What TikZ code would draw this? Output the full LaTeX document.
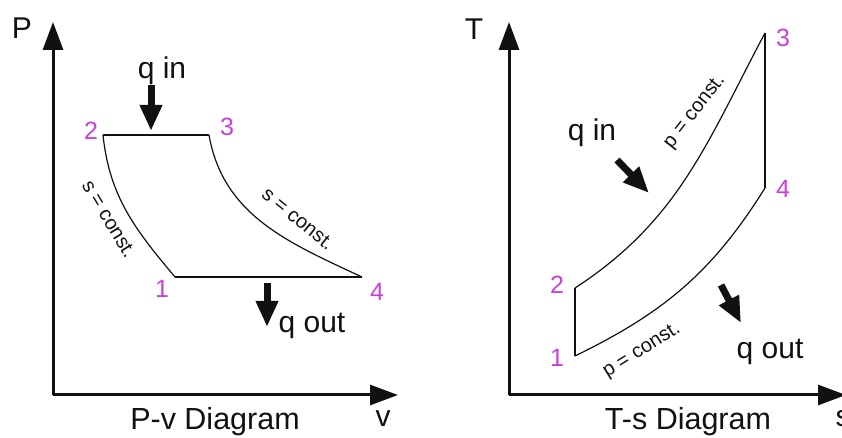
\documentclass[tikz,border=0pt]{standalone}
\usepackage{fontspec}
\setmainfont{Liberation Sans}
\usetikzlibrary{arrows.meta}
\definecolor{ptpink}{HTML}{C93FD8}
\definecolor{ptink}{HTML}{111111}
\tikzset{
  axis/.style={line width=3pt, color=ptink, -{Triangle[length=28pt, width=20pt]}},
  path/.style={line width=1.2pt, color=ptink},
  heat/.style={line width=7pt, color=ptink, -{Triangle[length=26pt, width=21pt]}},
  pnum/.style={font=\fontsize{25}{25}\selectfont, text=ptpink, inner sep=0pt},
  lab/.style={font=\fontsize{30}{30}\selectfont, text=ptink, inner sep=0pt},
  ttl/.style={font=\fontsize{30.5}{30.5}\selectfont, text=ptink, inner sep=0pt},
  cst/.style={font=\fontsize{20}{20}\selectfont, text=ptink, inner sep=0pt},
}
\begin{document}
\begin{tikzpicture}[x=1pt, y=1pt]
  \useasboundingbox (0,0) rectangle (842,438);
  % P-v diagram
  \coordinate (o1) at (53,43);
  \coordinate (ptip) at (53,416);
  \coordinate (vtip) at (398,43);
  \draw[axis] (o1) -- (ptip);
  \draw[axis] (o1) -- (vtip);
  \node[lab] (plab) at (22,410) {P};
  \node[lab] (vlab) at (383,19) {v};
  \node[ttl] (pvttl) at (215,16) {P-v Diagram};
  \coordinate (a1) at (175,161);
  \coordinate (a2) at (103,303);
  \coordinate (a3) at (209,303);
  \coordinate (a4) at (362,161);
  \draw[path] (a1) -- (a4);
  \draw[path] (a2) -- (a3);
  \draw[path] (a2) to[out=-84, in=130] (a1);
  \draw[path] (a3) to[out=-80, in=155] (a4);
  \node[pnum] (n1) at (162,149) {1};
  \node[pnum] (n2) at (91,307) {2};
  \node[pnum] (n3) at (227,311) {3};
  \node[pnum] (n4) at (377,146) {4};
  \coordinate (qi1) at (151,353);
  \coordinate (qi2) at (151,307);
  \draw[heat] (qi1) -- (qi2);
  \node[lab] (qin1) at (162,367) {q in};
  \coordinate (qo1) at (267,155);
  \coordinate (qo2) at (267,111);
  \draw[heat] (qo1) -- (qo2);
  \node[lab] (qout1) at (312,112) {q out};
  \node[cst, rotate=-59] (s12) at (109,219) {s = const.};
  \node[cst, rotate=-39] (s34) at (298,219) {s = const.};
  % T-s diagram
  \coordinate (o2) at (509,43);
  \coordinate (ttip) at (509,416);
  \coordinate (stip) at (846,43);
  \draw[axis] (o2) -- (ttip);
  \draw[axis] (o2) -- (stip);
  \node[lab] (tlab) at (474,409) {T};
  \node[lab] (slab) at (843,19) {s};
  \node[ttl] (tsttl) at (688,16) {T-s Diagram};
  \coordinate (b1) at (575,82);
  \coordinate (b2) at (575,150);
  \coordinate (b3) at (765,405);
  \coordinate (b4) at (765,250);
  \draw[path] (b1) -- (b2);
  \draw[path] (b3) -- (b4);
  \draw[path] (b2) to[out=33, in=-118] (b3);
  \draw[path] (b1) to[out=26, in=-122] (b4);
  \node[pnum] (m1) at (557,80) {1};
  \node[pnum] (m2) at (557,153) {2};
  \node[pnum] (m3) at (783,400) {3};
  \node[pnum] (m4) at (783,249) {4};
  \coordinate (ti1) at (617,278);
  \coordinate (ti2) at (649,245);
  \draw[heat] (ti1) -- (ti2);
  \node[lab] (qin2) at (592,305) {q in};
  \coordinate (to1) at (721,153);
  \coordinate (to2) at (741,115);
  \draw[heat] (to1) -- (to2);
  \node[lab] (qout2) at (770,86) {q out};
  \node[cst, rotate=52] (p23) at (695,326) {p = const.};
  \node[cst, rotate=32] (p14) at (642,87) {p = const.};
\end{tikzpicture}
\end{document}
